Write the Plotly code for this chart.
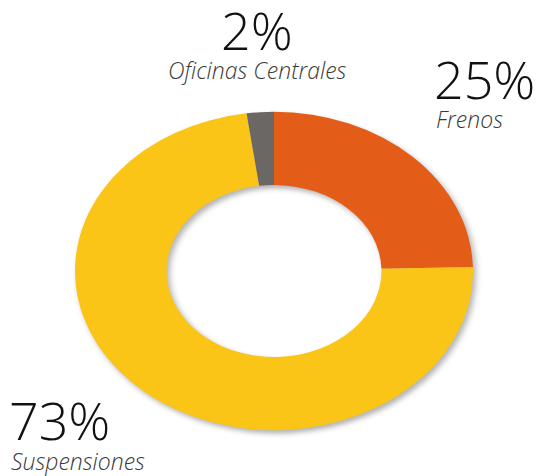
import plotly.graph_objects as go

# Data
categories = ["Frenos", "Suspensiones", "Oficinas Centrales"]
values = [24.6, 73.2, 2.2]
colors = ["#E45D18", "#FAC516", "#6A6764"]
pct_labels = [f"{round(v)}%" for v in values]

W, H = 538, 476
# pie geometry (pixels) before vertical squash
cx, cy, r = 274, 271, 199
dom_x = [(cx - r) / W, (cx + r) / W]
dom_y = [(H - cy - r) / H, (H - cy + r) / H]

fig = go.Figure(go.Pie(
    labels=categories,
    values=values,
    marker=dict(colors=colors, line=dict(width=0)),
    hole=0.54,
    sort=False,
    direction="clockwise",
    rotation=0,
    textinfo="none",
    hoverinfo="label+percent",
    domain=dict(x=dom_x, y=dom_y),
    showlegend=False,
))

big = dict(family="Open Sans", size=52, color="#111111", weight=300)
small = dict(family="Open Sans", size=23, color="#3a3a3a", weight=300, style="italic")

# label positions (pixels: x, y of text center/left)
lab_pos = {
    "Oficinas Centrales": dict(x=257, y_big=29, y_small=70, anchor="center"),
    "Frenos": dict(x=432, y_big=79, y_small=119, anchor="left"),
    "Suspensiones": dict(x=7, y_big=419, y_small=461, anchor="left"),
}
for cat, pl in zip(categories, pct_labels):
    p = lab_pos[cat]
    fig.add_annotation(x=p["x"] / W, y=1 - p["y_big"] / H, xref="paper", yref="paper",
                       text=pl, showarrow=False, xanchor=p["anchor"], yanchor="middle",
                       font=big)
    fig.add_annotation(x=p["x"] / W + (2 / W if p["anchor"] == "left" else 0),
                       y=1 - p["y_small"] / H, xref="paper", yref="paper",
                       text=cat, showarrow=False, xanchor=p["anchor"], yanchor="middle",
                       font=small)

fig.update_layout(
    width=W, height=H,
    margin=dict(l=0, r=0, t=0, b=0),
    paper_bgcolor="white",
    plot_bgcolor="white",
)

post = """
document.body.style.margin = '0';
document.body.style.padding = '0';
var gd = document.getElementById('{plot_id}');
function squash(){
  var pl = gd.querySelector('.pielayer');
  if(pl){
    pl.style.transformBox = 'fill-box';
    pl.style.transformOrigin = 'center';
    pl.style.transform = 'scaleY(0.8)';
    pl.style.filter = 'drop-shadow(3px 4px 3px rgba(0,0,0,0.3))';
  }
}
squash();
if (gd.on) { gd.on('plotly_afterplot', squash); }
"""

fig.write_html("out.html", post_script=post, config={"displayModeBar": False})
